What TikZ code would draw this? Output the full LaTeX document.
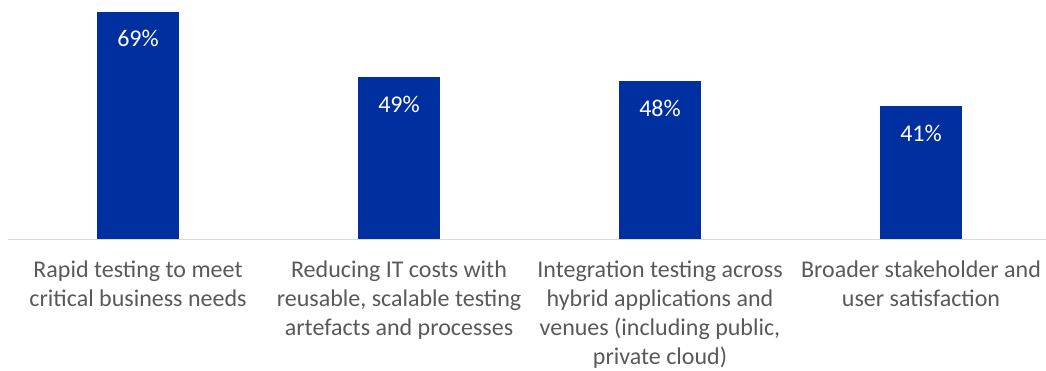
\documentclass[tikz,border=0pt]{standalone}
\usepackage{fontspec}
\setmainfont{Carlito}
\definecolor{barblue}{HTML}{0030A0}
\definecolor{labgray}{HTML}{595959}
\definecolor{axisgray}{HTML}{D9D9D9}
\tikzset{
  bar/.style={fill=barblue, draw=none},
  val/.style={text=white, font=\fontsize{24}{28}\selectfont, anchor=base, inner sep=0},
  cat/.style={text=labgray, font=\fontsize{24}{29}\selectfont, align=center, anchor=north, inner sep=0},
}
\begin{document}
\begin{tikzpicture}[x=1pt,y=1pt]
\useasboundingbox (0,0) rectangle (1046,370);
% bars (y measured from bottom: ypx -> 370-ypx)
\path[bar] (97,131) rectangle (179,358) coordinate (b1);
\path[bar] (358,131) rectangle (440,293) coordinate (b2);
\path[bar] (619,131) rectangle (701,289) coordinate (b3);
\path[bar] (880,131) rectangle (962,264) coordinate (b4);
\coordinate (axl) at (8,130.5);
\coordinate (axr) at (1046,130.5);
\draw[axisgray, line width=1.5pt] (axl) -- (axr);
\node[val] (v1) at (138,323) {69\%};
\node[val] (v2) at (399,257) {49\%};
\node[val] (v3) at (660,253) {48\%};
\node[val] (v4) at (921,228) {41\%};
\node[cat] (c1) at (138,109) {Rapid testing to meet\\critical business needs};
\node[cat] (c2) at (399,109) {Reducing IT costs with\\reusable, scalable testing\\artefacts and processes};
\node[cat] (c3) at (660,109) {Integration testing across\\hybrid applications and\\venues (including public,\\private cloud)};
\node[cat] (c4) at (921,109) {Broader stakeholder and\\user satisfaction};
\end{tikzpicture}
\end{document}
